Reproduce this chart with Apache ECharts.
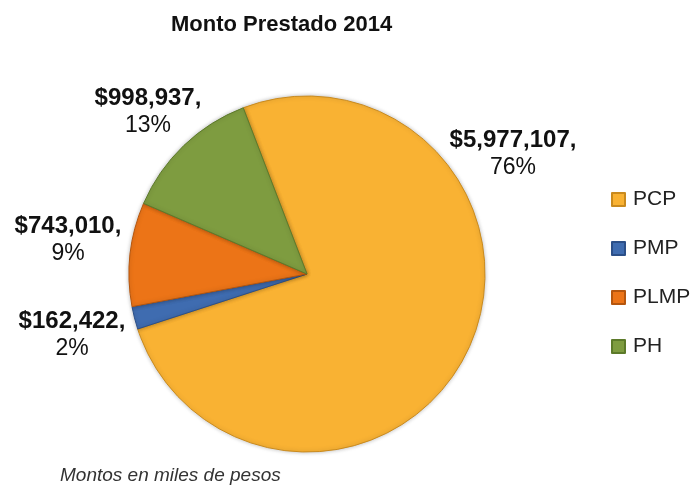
<!DOCTYPE html>
<html>
<head>
<meta charset="utf-8">
<script src="https://cdn.jsdelivr.net/npm/echarts@6/dist/echarts.min.js"></script>
<style>
  html, body { margin: 0; padding: 0; background: #fff; }
  #chart { width: 691px; height: 487px; }
</style>
</head>
<body>
<div id="chart"></div>
<script>
// datos
var categorias = ['PCP', 'PMP', 'PLMP', 'PH'];
var montos = [5977107, 162422, 743010, 998937];
var colores = ['#F9B233', '#3F6CB0', '#EC7417', '#7E9C40'];
var bordes = ['#C98A1E', '#2B4F88', '#B5560E', '#5C7A2A'];

// posicion de etiquetas (centro del texto)
var posEtiquetas = [[513, 154], [72, 335], [68, 240], [148, 112]];

function miles(n) {
  return String(n).replace(/\B(?=(\d{3})+(?!\d))/g, ',');
}

var chart = echarts.init(document.getElementById('chart'));

var datos = categorias.map(function (c, i) {
  return {
    name: c,
    value: montos[i],
    itemStyle: { color: colores[i], borderColor: bordes[i], borderWidth: 1 }
  };
});

chart.setOption({
  animation: false,
  title: [{
    text: 'Monto Prestado 2014',
    left: 166,
    top: 9,
    textStyle: { fontFamily: 'Liberation Sans', fontWeight: 'bold', fontSize: 22, color: '#111' }
  }, {
    text: 'Montos en miles de pesos',
    left: 60,
    top: 466,
    padding: 0,
    textStyle: { fontFamily: 'Liberation Sans', fontStyle: 'italic', fontWeight: 'normal', fontSize: 19, color: '#333' }
  }],
  legend: {
    orient: 'vertical',
    left: 611,
    top: 189,
    padding: 0,
    icon: 'rect',
    itemWidth: 13,
    itemHeight: 13,
    itemGap: 28,
    data: categorias,
    textStyle: { fontFamily: 'Liberation Sans', fontSize: 21, color: '#222', padding: [0, 0, 0, 3] }
  },
  series: [{
    type: 'pie',
    center: [307, 274],
    radius: 178,
    startAngle: 111,
    clockwise: true,
    data: datos,
    itemStyle: { shadowBlur: 4, shadowColor: 'rgba(0,0,0,0.25)' },
    labelLine: { show: false },
    label: {
      show: true,
      position: 'outside',
      overflow: 'none',
      formatter: function (p) {
        return '{v|$' + miles(p.value) + ',}\n{p|' + Math.round(p.percent) + '%}';
      },
      rich: {
        v: { fontFamily: 'Liberation Sans', fontWeight: 'bold', fontSize: 24, color: '#111', lineHeight: 27, align: 'center' },
        p: { fontFamily: 'Liberation Sans', fontSize: 23, color: '#111', lineHeight: 27, align: 'center' }
      }
    },
    labelLayout: function (p) {
      var pos = posEtiquetas[p.dataIndex];
      return { x: pos[0], y: pos[1], align: 'center', verticalAlign: 'middle', hideOverlap: false };
    }
  }]
});
</script>
</body>
</html>
